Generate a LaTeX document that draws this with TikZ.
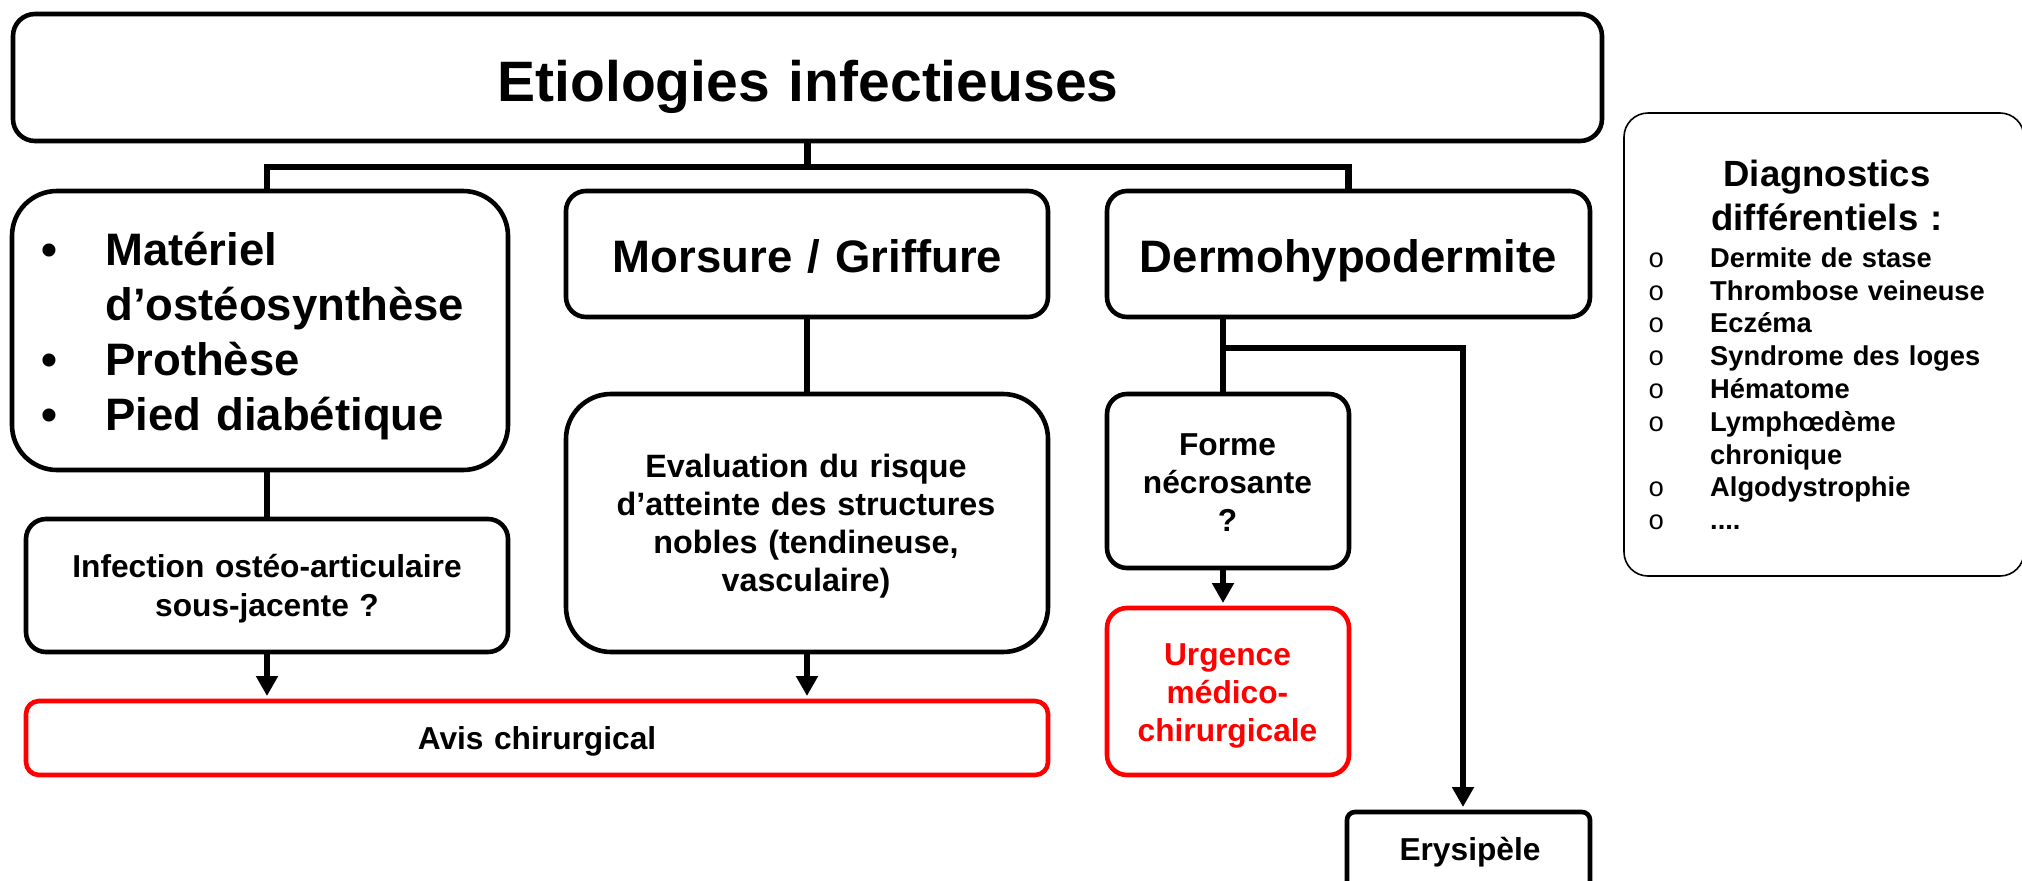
\documentclass[tikz,border=0pt]{standalone}
\usepackage{fontspec}
\setmainfont{Liberation Sans}
\newfontfamily\monof{Liberation Mono}
\usetikzlibrary{arrows.meta}
\definecolor{redb}{RGB}{255,0,0}
\tikzset{
  box/.style={draw=black, line width=4.6pt, rounded corners=20pt, inner sep=0pt, outer sep=0pt},
  redbox/.style={box, draw=redb},
  thinbox/.style={draw=black, line width=1.6pt, rounded corners=24pt, inner sep=0pt, outer sep=0pt},
  conn/.style={line width=6.5pt, draw=black},
  arr/.style={conn, -{Triangle[length=20pt,width=21pt]}, shorten >=5pt},
  lbl/.style={inner sep=0pt, anchor=base, align=center},
  fA/.style={font=\fontsize{57}{68}\selectfont\bfseries},
  fB/.style={font=\fontsize{45.5}{55}\selectfont\bfseries},
  fC/.style={font=\fontsize{31.7}{39}\selectfont\bfseries},
  fEv/.style={font=\fontsize{32.3}{38.3}\selectfont\bfseries},
  fF/.style={font=\fontsize{31.7}{38.4}\selectfont\bfseries},
  fD/.style={font=\fontsize{36.5}{44}\selectfont\bfseries},
  fE/.style={font=\fontsize{27.3}{32.8}\selectfont\bfseries},
}
\begin{document}
\begin{tikzpicture}[x=1pt,y=-1pt]
\useasboundingbox (0,0) rectangle (2022,881);

% boxes
\node[box, rounded corners=22pt, minimum width=1589pt, minimum height=127pt] (title) at (807.5,77.5) {};
\node[box, rounded corners=45pt, minimum width=496pt, minimum height=279pt] (mat) at (260,330.5) {};
\node[box, minimum width=482pt, minimum height=126pt] (mors) at (807,254) {};
\node[box, minimum width=483pt, minimum height=126pt] (derm) at (1348.5,254) {};
\node[box, minimum width=482pt, minimum height=133pt] (inf) at (267,585.5) {};
\node[box, rounded corners=45pt, minimum width=482pt, minimum height=258pt] (eval) at (807,523) {};
\node[redbox, rounded corners=13pt, minimum width=1022pt, minimum height=74pt] (avis) at (537,738) {};
\node[box, minimum width=242pt, minimum height=174pt] (forme) at (1228,481) {};
\node[redbox, minimum width=242pt, minimum height=167pt] (urg) at (1228,691.5) {};
\node[box, rounded corners=8pt, minimum width=243pt, minimum height=80pt] (erys) at (1468.5,852) {};
\node[thinbox, minimum width=400pt, minimum height=463pt] (diag) at (1824,344.5) {};

% connectors
\coordinate (bar) at (807.5,167);
\draw[conn] ([xshift=7pt]mat.north) |- (bar) -| (derm.north);
\draw[conn] (title.south) -- (bar);
\draw[conn] ([xshift=7pt]mat.south) -- (inf.north);
\draw[arr] (inf.south) -- (inf.south |- avis.north);
\draw[conn] (mors.south) -- (eval.north);
\draw[arr] (eval.south) -- (eval.south |- avis.north);
\coordinate (fx) at ([xshift=-5pt]forme.north);
\coordinate (ex) at ([xshift=-5.5pt]erys.north);
\coordinate (br) at (fx |- 0,348);
\draw[conn] (fx |- derm.south) -- (fx);
\draw[arr] (br) -| (ex);
\draw[arr] (forme.south -| fx) -- (urg.north -| fx);

% texts
\node[lbl, fA, text width=1500pt] (titleT) at (808,101.5) {Etiologies infectieuses};
\node[lbl, fB, text width=436pt, align=left, anchor=base west] (matT) at (41,265)
  {\makebox[64pt][l]{•}Matériel\\\hspace*{64pt}d’ostéosynthèse\\\makebox[64pt][l]{•}Prothèse\\\makebox[64pt][l]{•}Pied diabétique};
\node[lbl, fB, text width=480pt] (morsT) at (807.5,272) {Morsure / Griffure};
\node[lbl, fB, text width=480pt] (dermT) at (1348.5,272) {Dermohypodermite};
\node[lbl, fC, text width=470pt] (infT) at (267,577) {Infection ostéo-articulaire\\sous-jacente ?};
\node[lbl, fEv, text width=470pt] (evalT) at (806,477) {Evaluation du risque\\d’atteinte des structures\\nobles (tendineuse,\\vasculaire)};
\node[lbl, fC, text width=900pt] (avisT) at (537,749) {Avis chirurgical};
\node[lbl, fF, text width=236pt] (formeT) at (1227.5,455) {Forme\\nécrosante\\?};
\node[lbl, fF, text width=236pt, text=redb] (urgT) at (1227.5,665) {Urgence\\médico-\\chirurgicale};
\node[lbl, fC, text width=236pt] (erysT) at (1470,860) {Erysipèle};
\node[lbl, fD, text width=390pt] (diagT) at (1827,186.7) {Diagnostics\\différentiels :};
\node[lbl, fE, text width=360pt, align=left, anchor=base west] (diagL) at (1648,267.3)
  {\makebox[62pt][l]{\monof\mdseries o}Dermite de stase\\
   \makebox[62pt][l]{\monof\mdseries o}Thrombose veineuse\\
   \makebox[62pt][l]{\monof\mdseries o}Eczéma\\
   \makebox[62pt][l]{\monof\mdseries o}Syndrome des loges\\
   \makebox[62pt][l]{\monof\mdseries o}Hématome\\
   \makebox[62pt][l]{\monof\mdseries o}Lymphœdème\\
   \hspace*{62pt}chronique\\
   \makebox[62pt][l]{\monof\mdseries o}Algodystrophie\\
   \makebox[62pt][l]{\monof\mdseries o}....};
\end{tikzpicture}
\end{document}
